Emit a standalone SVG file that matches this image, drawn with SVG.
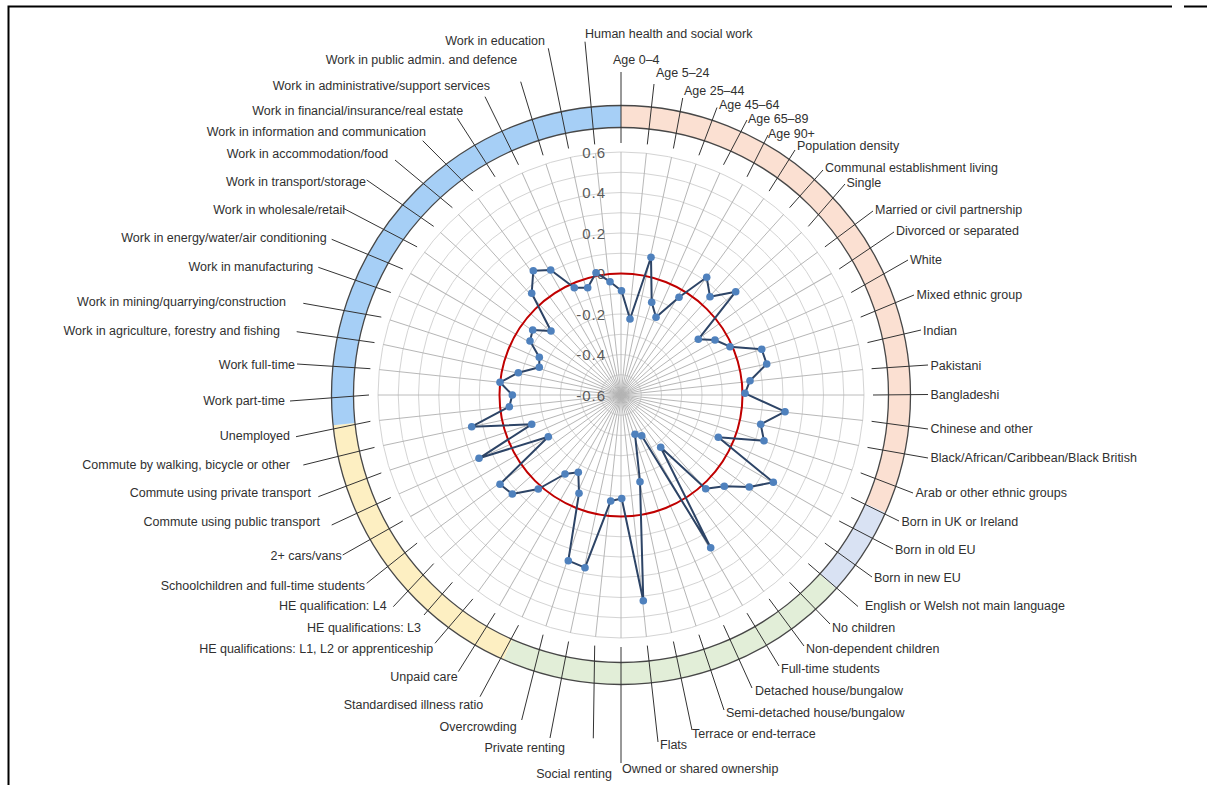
<svg xmlns="http://www.w3.org/2000/svg" xmlns:xlink="http://www.w3.org/1999/xlink" width="1210" height="785" viewBox="0 0 1210 785">
<style>
.lbl{font-family:"Liberation Sans",Arial,sans-serif;font-size:12.5px;fill:#303030}
.end{text-anchor:end}
.ax{font-family:"Liberation Sans",Arial,sans-serif;font-size:15px;fill:#5a5a5a;text-anchor:end;letter-spacing:1px}
.grid{fill:none;stroke:#d4d4d4;stroke-width:1}
.spk{stroke:#b4b4b4;stroke-width:0.9}
.ld{stroke:#333;stroke-width:1;fill:none}
.ringedge{fill:none;stroke:#474747;stroke-width:1.3}
.mk{fill:#4f81bd}
</style>
<defs>
<line id="dia" x1="621" y1="152" x2="621" y2="638" class="spk"/>
</defs>
<rect width="1210" height="785" fill="#fff"/>
<path d="M8.5,785 V6.5 H1172 M1184,6.5 H1207" stroke="#000" stroke-width="2" fill="none"/>

<g id="grid">
<circle cx="621" cy="395" r="20.25" class="grid"/>
<circle cx="621" cy="395" r="40.5" class="grid"/>
<circle cx="621" cy="395" r="60.75" class="grid"/>
<circle cx="621" cy="395" r="81" class="grid"/>
<circle cx="621" cy="395" r="101.25" class="grid"/>
<circle cx="621" cy="395" r="121.5" class="grid"/>
<circle cx="621" cy="395" r="141.75" class="grid"/>
<circle cx="621" cy="395" r="162" class="grid"/>
<circle cx="621" cy="395" r="182.25" class="grid"/>
<circle cx="621" cy="395" r="202.5" class="grid"/>
<circle cx="621" cy="395" r="222.75" class="grid"/>
<circle cx="621" cy="395" r="243" class="grid"/>
<use xlink:href="#dia"/>
<use xlink:href="#dia" transform="rotate(6 621 395)"/>
<use xlink:href="#dia" transform="rotate(12 621 395)"/>
<use xlink:href="#dia" transform="rotate(18 621 395)"/>
<use xlink:href="#dia" transform="rotate(24 621 395)"/>
<use xlink:href="#dia" transform="rotate(30 621 395)"/>
<use xlink:href="#dia" transform="rotate(36 621 395)"/>
<use xlink:href="#dia" transform="rotate(42 621 395)"/>
<use xlink:href="#dia" transform="rotate(48 621 395)"/>
<use xlink:href="#dia" transform="rotate(54 621 395)"/>
<use xlink:href="#dia" transform="rotate(60 621 395)"/>
<use xlink:href="#dia" transform="rotate(66 621 395)"/>
<use xlink:href="#dia" transform="rotate(72 621 395)"/>
<use xlink:href="#dia" transform="rotate(78 621 395)"/>
<use xlink:href="#dia" transform="rotate(84 621 395)"/>
<use xlink:href="#dia" transform="rotate(90 621 395)"/>
<use xlink:href="#dia" transform="rotate(96 621 395)"/>
<use xlink:href="#dia" transform="rotate(102 621 395)"/>
<use xlink:href="#dia" transform="rotate(108 621 395)"/>
<use xlink:href="#dia" transform="rotate(114 621 395)"/>
<use xlink:href="#dia" transform="rotate(120 621 395)"/>
<use xlink:href="#dia" transform="rotate(126 621 395)"/>
<use xlink:href="#dia" transform="rotate(132 621 395)"/>
<use xlink:href="#dia" transform="rotate(138 621 395)"/>
<use xlink:href="#dia" transform="rotate(144 621 395)"/>
<use xlink:href="#dia" transform="rotate(150 621 395)"/>
<use xlink:href="#dia" transform="rotate(156 621 395)"/>
<use xlink:href="#dia" transform="rotate(162 621 395)"/>
<use xlink:href="#dia" transform="rotate(168 621 395)"/>
<use xlink:href="#dia" transform="rotate(174 621 395)"/>
<circle cx="621" cy="395" r="121.5" fill="none" stroke="#c00000" stroke-width="2"/>
<g id="axis-labels">
<text class="ax" x="606" y="157.5">0.6</text>
<text class="ax" x="606" y="198">0.4</text>
<text class="ax" x="606" y="238.5">0.2</text>
<text class="ax" x="606" y="279">0</text>
<text class="ax" x="606" y="319.5">-0.2</text>
<text class="ax" x="606" y="360">-0.4</text>
<text class="ax" x="606" y="400.5">-0.6</text>
</g>
</g>

<g id="ring">
<path d="M621,105.5 A289.5,289.5 0 0 1 885.5,512.7 L865.4,503.8 A267.5,267.5 0 0 0 621,127.5 Z" fill="#fbe0d2"/>
<path d="M885.5,512.7 A289.5,289.5 0 0 1 836.1,588.7 L819.8,574 A267.5,267.5 0 0 0 865.4,503.8 Z" fill="#d9e2f3"/>
<path d="M836.1,588.7 A289.5,289.5 0 0 1 503.3,659.5 L512.2,639.4 A267.5,267.5 0 0 0 819.8,574 Z" fill="#e2eed8"/>
<path d="M503.3,659.5 A289.5,289.5 0 0 1 333.1,425.3 L355,423 A267.5,267.5 0 0 0 512.2,639.4 Z" fill="#fdefc2"/>
<path d="M333.1,425.3 A289.5,289.5 0 0 1 621,105.5 L621,127.5 A267.5,267.5 0 0 0 355,423 Z" fill="#a6cff6"/>
<circle cx="621" cy="395" r="289.5" class="ringedge"/>
<circle cx="621" cy="395" r="267.5" class="ringedge"/>
</g>

<g id="connectors">
<path class="ld" d="M621,143 L621,72"/>
<path class="ld" d="M647.3,144.4 L654,84"/>
<path class="ld" d="M673.4,148.5 L682.7,98"/>
<path class="ld" d="M698.9,155.3 L717,107.5"/>
<path class="ld" d="M723.5,164.8 L747,120"/>
<path class="ld" d="M747,176.8 L768,135"/>
<path class="ld" d="M769.1,191.1 L795,150"/>
<path class="ld" d="M789.6,207.7 L823,170"/>
<path class="ld" d="M808.3,226.4 L845,184"/>
<path class="ld" d="M824.9,246.9 L873,211"/>
<path class="ld" d="M839.2,269 L894,232"/>
<path class="ld" d="M851.2,292.5 L908,260"/>
<path class="ld" d="M860.7,317.1 L914,295"/>
<path class="ld" d="M867.5,342.6 L921,330"/>
<path class="ld" d="M871.6,368.7 L928,365"/>
<path class="ld" d="M873,395 L928,394.5"/>
<path class="ld" d="M871.6,421.3 L928,429"/>
<path class="ld" d="M867.5,447.4 L928,458"/>
<path class="ld" d="M860.7,472.9 L913,493"/>
<path class="ld" d="M851.2,497.5 L899,521"/>
<path class="ld" d="M839.2,521 L893,549"/>
<path class="ld" d="M824.9,543.1 L872,577"/>
<path class="ld" d="M808.3,563.6 L858,606.5"/>
<path class="ld" d="M789.6,582.3 L830,624"/>
<path class="ld" d="M769.1,598.9 L804,646"/>
<path class="ld" d="M747,613.2 L779,666"/>
<path class="ld" d="M723.5,625.2 L752,688"/>
<path class="ld" d="M698.9,634.7 L724,710"/>
<path class="ld" d="M673.4,641.5 L692,730"/>
<path class="ld" d="M647.3,645.6 L658,742"/>
<path class="ld" d="M621,647 L621,763"/>
<path class="ld" d="M594.7,645.6 L593.3,738.3"/>
<path class="ld" d="M568.6,641.5 L550,738"/>
<path class="ld" d="M543.1,634.7 L521.7,720"/>
<path class="ld" d="M518.5,625.2 L480,696.7"/>
<path class="ld" d="M495,613.2 L458.3,671.7"/>
<path class="ld" d="M472.9,598.9 L435,643.3"/>
<path class="ld" d="M452.4,582.3 L424,615"/>
<path class="ld" d="M433.7,563.6 L393.3,606.7"/>
<path class="ld" d="M417.1,543.1 L366.7,583.3"/>
<path class="ld" d="M402.8,521 L342.7,555"/>
<path class="ld" d="M390.8,497.5 L331.7,525"/>
<path class="ld" d="M381.3,472.9 L318.3,496.7"/>
<path class="ld" d="M374.5,447.4 L303.3,465"/>
<path class="ld" d="M370.4,421.3 L296,436.7"/>
<path class="ld" d="M369,395 L290,401"/>
<path class="ld" d="M370.4,368.7 L297,364"/>
<path class="ld" d="M374.5,342.6 L296.7,331.7"/>
<path class="ld" d="M381.3,317.1 L303.3,303.3"/>
<path class="ld" d="M390.8,292.5 L318.3,267.3"/>
<path class="ld" d="M402.8,269 L331.7,239.3"/>
<path class="ld" d="M417.1,246.9 L343.3,208.3"/>
<path class="ld" d="M433.7,226.4 L366.7,180"/>
<path class="ld" d="M452.4,207.7 L395,160"/>
<path class="ld" d="M472.9,191.1 L422.7,140.7"/>
<path class="ld" d="M495,176.8 L457.3,118.3"/>
<path class="ld" d="M518.5,164.8 L485,96.7"/>
<path class="ld" d="M543.1,155.3 L520.7,81.7"/>
<path class="ld" d="M568.6,148.5 L548.3,48.3"/>
<path class="ld" d="M594.7,144.4 L585,41.7"/>
</g>

<g id="labels">
<text class="lbl" x="585" y="37.5">Human health and social work</text>
<text class="lbl" x="613" y="63.5">Age 0–4</text>
<text class="lbl" x="656" y="77">Age 5–24</text>
<text class="lbl" x="684" y="95">Age 25–44</text>
<text class="lbl" x="719" y="108.5">Age 45–64</text>
<text class="lbl" x="748" y="122.5">Age 65–89</text>
<text class="lbl" x="768" y="137.5">Age 90+</text>
<text class="lbl" x="797" y="150">Population density</text>
<text class="lbl" x="825" y="172">Communal establishment living</text>
<text class="lbl" x="846.5" y="186.5">Single</text>
<text class="lbl" x="875" y="213.5">Married or civil partnership</text>
<text class="lbl" x="896" y="235">Divorced or separated</text>
<text class="lbl" x="910" y="263.5">White</text>
<text class="lbl" x="916.5" y="298.5">Mixed ethnic group</text>
<text class="lbl" x="923" y="334.5">Indian</text>
<text class="lbl" x="930.5" y="369.5">Pakistani</text>
<text class="lbl" x="930.5" y="398.5">Bangladeshi</text>
<text class="lbl" x="930.5" y="433">Chinese and other</text>
<text class="lbl" x="930.5" y="462">Black/African/Caribbean/Black British</text>
<text class="lbl" x="915.5" y="497">Arab or other ethnic groups</text>
<text class="lbl" x="901.5" y="525.5">Born in UK or Ireland</text>
<text class="lbl" x="895" y="554">Born in old EU</text>
<text class="lbl" x="874" y="582">Born in new EU</text>
<text class="lbl" x="865" y="610">English or Welsh not main language</text>
<text class="lbl" x="832" y="631.5">No children</text>
<text class="lbl" x="806" y="652.5">Non-dependent children</text>
<text class="lbl" x="781" y="672.5">Full-time students</text>
<text class="lbl" x="755" y="694.5">Detached house/bungalow</text>
<text class="lbl" x="726" y="716.5">Semi-detached house/bungalow</text>
<text class="lbl" x="692" y="737.5">Terrace or end-terrace</text>
<text class="lbl" x="660" y="748.5">Flats</text>
<text class="lbl" x="622" y="772.5">Owned or shared ownership</text>
<text class="lbl end" x="612" y="777.5">Social renting</text>
<text class="lbl end" x="565" y="751.5">Private renting</text>
<text class="lbl end" x="516.7" y="730.5">Overcrowding</text>
<text class="lbl end" x="483.3" y="708.5">Standardised illness ratio</text>
<text class="lbl end" x="457.7" y="680.5">Unpaid care</text>
<text class="lbl end" x="433.3" y="652.5">HE qualifications: L1, L2 or apprenticeship</text>
<text class="lbl end" x="421" y="632">HE qualifications: L3</text>
<text class="lbl end" x="386.7" y="610">HE qualification: L4</text>
<text class="lbl end" x="365" y="589.5">Schoolchildren and full-time students</text>
<text class="lbl end" x="341.7" y="560">2+ cars/vans</text>
<text class="lbl end" x="320" y="525.5">Commute using public transport</text>
<text class="lbl end" x="311" y="497">Commute using private transport</text>
<text class="lbl end" x="290" y="469">Commute by walking, bicycle or other</text>
<text class="lbl end" x="290" y="440">Unemployed</text>
<text class="lbl end" x="285" y="404.5">Work part-time</text>
<text class="lbl end" x="295" y="369">Work full-time</text>
<text class="lbl end" x="280" y="334.5">Work in agriculture, forestry and fishing</text>
<text class="lbl end" x="286" y="305.5">Work in mining/quarrying/construction</text>
<text class="lbl end" x="313.3" y="271">Work in manufacturing</text>
<text class="lbl end" x="326.7" y="242">Work in energy/water/air conditioning</text>
<text class="lbl end" x="345" y="214">Work in wholesale/retail</text>
<text class="lbl end" x="366" y="186">Work in transport/storage</text>
<text class="lbl end" x="388.3" y="158">Work in accommodation/food</text>
<text class="lbl end" x="426" y="136">Work in information and communication</text>
<text class="lbl end" x="463.3" y="114.5">Work in financial/insurance/real estate</text>
<text class="lbl end" x="490" y="89.5">Work in administrative/support services</text>
<text class="lbl end" x="517.3" y="63.5">Work in public admin. and defence</text>
<text class="lbl end" x="545" y="44.5">Work in education</text>
</g>

<g id="series">
<polygon fill="none" stroke="#2d4466" stroke-width="2" stroke-linejoin="round" points="621.5,290.7 630,319 651,257.3 651.7,302.3 656,317.3 679,297.3 706.7,277.3 710,296.7 735.7,291.7 698.3,339.3 715,340 730,346.7 761.7,349.3 766.7,364 750,380.7 745,393.3 785,411.7 760.7,424.3 764,440.7 718.3,437.3 773.3,482.3 749.3,487 724.3,486.3 705.7,488.7 660.7,447.3 710.7,547.7 641.7,435.7 635,434.3 640,481.7 643.3,600.7 621.7,498.5 610.7,501 585,567.7 568.3,560.7 579,493.3 578.3,472.3 565,474 538.3,489 512.3,494 500,484.3 548.3,436.7 479,458.3 531.7,424.3 471.7,426.7 509.3,406.7 512.3,395 500,382.3 518.3,372.7 539.3,367.3 539.3,357.3 530,341 532.7,330 551,331 531.7,293.3 533.3,270.7 550.7,270 574.3,287.7 587.7,287.7 596,272.7 610,281.7"/>
<g class="mk">
<circle cx="621.5" cy="290.7" r="3.8"/><circle cx="630" cy="319" r="3.8"/><circle cx="651" cy="257.3" r="3.8"/><circle cx="651.7" cy="302.3" r="3.8"/><circle cx="656" cy="317.3" r="3.8"/><circle cx="679" cy="297.3" r="3.8"/><circle cx="706.7" cy="277.3" r="3.8"/><circle cx="710" cy="296.7" r="3.8"/><circle cx="735.7" cy="291.7" r="3.8"/><circle cx="698.3" cy="339.3" r="3.8"/>
<circle cx="715" cy="340" r="3.8"/><circle cx="730" cy="346.7" r="3.8"/><circle cx="761.7" cy="349.3" r="3.8"/><circle cx="766.7" cy="364" r="3.8"/><circle cx="750" cy="380.7" r="3.8"/><circle cx="745" cy="393.3" r="3.8"/><circle cx="785" cy="411.7" r="3.8"/><circle cx="760.7" cy="424.3" r="3.8"/><circle cx="764" cy="440.7" r="3.8"/><circle cx="718.3" cy="437.3" r="3.8"/>
<circle cx="773.3" cy="482.3" r="3.8"/><circle cx="749.3" cy="487" r="3.8"/><circle cx="724.3" cy="486.3" r="3.8"/><circle cx="705.7" cy="488.7" r="3.8"/><circle cx="660.7" cy="447.3" r="3.8"/><circle cx="710.7" cy="547.7" r="3.8"/><circle cx="641.7" cy="435.7" r="3.8"/><circle cx="635" cy="434.3" r="3.8"/><circle cx="640" cy="481.7" r="3.8"/><circle cx="643.3" cy="600.7" r="3.8"/>
<circle cx="621.7" cy="498.5" r="3.8"/><circle cx="610.7" cy="501" r="3.8"/><circle cx="585" cy="567.7" r="3.8"/><circle cx="568.3" cy="560.7" r="3.8"/><circle cx="579" cy="493.3" r="3.8"/><circle cx="578.3" cy="472.3" r="3.8"/><circle cx="565" cy="474" r="3.8"/><circle cx="538.3" cy="489" r="3.8"/><circle cx="512.3" cy="494" r="3.8"/><circle cx="500" cy="484.3" r="3.8"/>
<circle cx="548.3" cy="436.7" r="3.8"/><circle cx="479" cy="458.3" r="3.8"/><circle cx="531.7" cy="424.3" r="3.8"/><circle cx="471.7" cy="426.7" r="3.8"/><circle cx="509.3" cy="406.7" r="3.8"/><circle cx="512.3" cy="395" r="3.8"/><circle cx="500" cy="382.3" r="3.8"/><circle cx="518.3" cy="372.7" r="3.8"/><circle cx="539.3" cy="367.3" r="3.8"/><circle cx="539.3" cy="357.3" r="3.8"/>
<circle cx="530" cy="341" r="3.8"/><circle cx="532.7" cy="330" r="3.8"/><circle cx="551" cy="331" r="3.8"/><circle cx="531.7" cy="293.3" r="3.8"/><circle cx="533.3" cy="270.7" r="3.8"/><circle cx="550.7" cy="270" r="3.8"/><circle cx="574.3" cy="287.7" r="3.8"/><circle cx="587.7" cy="287.7" r="3.8"/><circle cx="596" cy="272.7" r="3.8"/><circle cx="610" cy="281.7" r="3.8"/>
</g>
</g>
</svg>
